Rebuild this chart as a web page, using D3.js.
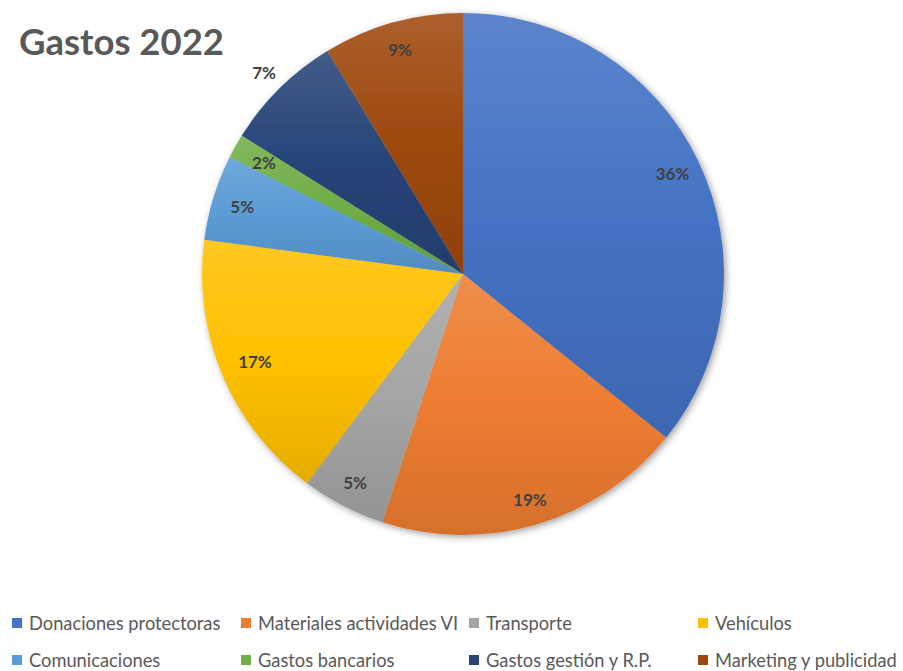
<!DOCTYPE html>
<html><head><meta charset="utf-8">
<script src="https://cdn.jsdelivr.net/npm/d3@7"></script>
<style>body{margin:0;background:#fff;overflow:hidden}</style></head>
<body><svg id="c" width="903" height="671"></svg>
<script>
const title = "Gastos 2022";
const categories = ["Donaciones protectoras","Materiales actividades VI","Transporte","Vehículos","Comunicaciones","Gastos bancarios","Gastos gestión y R.P.","Marketing y publicidad"];
const values = [35.8, 19.2, 5.2, 16.9, 5.3, 1.5, 7.4, 8.7];
const labels = ["36%","19%","5%","17%","5%","2%","7%","9%"];
const colors = ["#4472C4","#ED7D31","#A5A5A5","#FFC000","#5B9BD5","#70AD47","#264478","#9E480E"];
// label placement (fraction of radius), styling only
const labelRadius = [0.89,0.90,0.90,0.865,0.885,0.875,1.085,0.893];

const svg = d3.select("#c");
const cx = 463, cy = 274, R = 261;

const defs = svg.append("defs");
const f = defs.append("filter").attr("id","sh").attr("x","-20%").attr("y","-20%").attr("width","140%").attr("height","140%");
f.append("feDropShadow").attr("dx",2).attr("dy",2).attr("stdDeviation",3.5).attr("flood-color","#000").attr("flood-opacity",0.38);

colors.forEach((c,i)=>{
  const g = defs.append("linearGradient").attr("id","g"+i).attr("x1",0).attr("y1",0).attr("x2",0).attr("y2",1);
  g.append("stop").attr("offset","0%").attr("stop-color", d3.interpolateRgb(c,"#ffffff")(0.13));
  g.append("stop").attr("offset","50%").attr("stop-color", c);
  g.append("stop").attr("offset","100%").attr("stop-color", d3.color(c).darker(0.3));
});

svg.append("text").attr("x",19).attr("y",55)
  .attr("font-family","Lato, 'Open Sans', sans-serif").attr("font-weight","bold")
  .attr("font-size",36.5).attr("fill","#595959").text(title);

const pie = d3.pie().value(d=>d).sort(null);
const arcs = pie(values);
const arc = d3.arc().innerRadius(0).outerRadius(R);

const g = svg.append("g").attr("transform",`translate(${cx},${cy})`);
const sg = g.append("g").attr("filter","url(#sh)");
sg.selectAll("path").data(arcs).join("path")
  .attr("d",arc).attr("fill",(d,i)=>`url(#g${i})`);

g.selectAll("text.lbl").data(arcs).join("text").attr("class","lbl")
  .attr("transform",(d,i)=>{
    const a=(d.startAngle+d.endAngle)/2, r=R*labelRadius[i];
    return `translate(${Math.sin(a)*r},${-Math.cos(a)*r})`;
  })
  .attr("text-anchor","middle").attr("dominant-baseline","central")
  .attr("font-family","Lato, 'Open Sans', sans-serif").attr("font-weight","bold")
  .attr("font-size",17).attr("fill","#404040")
  .text((d,i)=>labels[i]);

const colX = [12, 241, 469, 698];
const rowY = [618, 655];
const lg = svg.append("g");
categories.forEach((c,i)=>{
  const x = colX[i%4], y = rowY[Math.floor(i/4)];
  lg.append("rect").attr("x",x).attr("y",y).attr("width",10).attr("height",10).attr("fill",colors[i]);
  lg.append("text").attr("x",x+17).attr("y",y+5).attr("dominant-baseline","central")
    .attr("font-family","Lato, 'Open Sans', sans-serif").attr("font-size",18.3).attr("fill","#595959").text(c);
});
</script></body></html>
